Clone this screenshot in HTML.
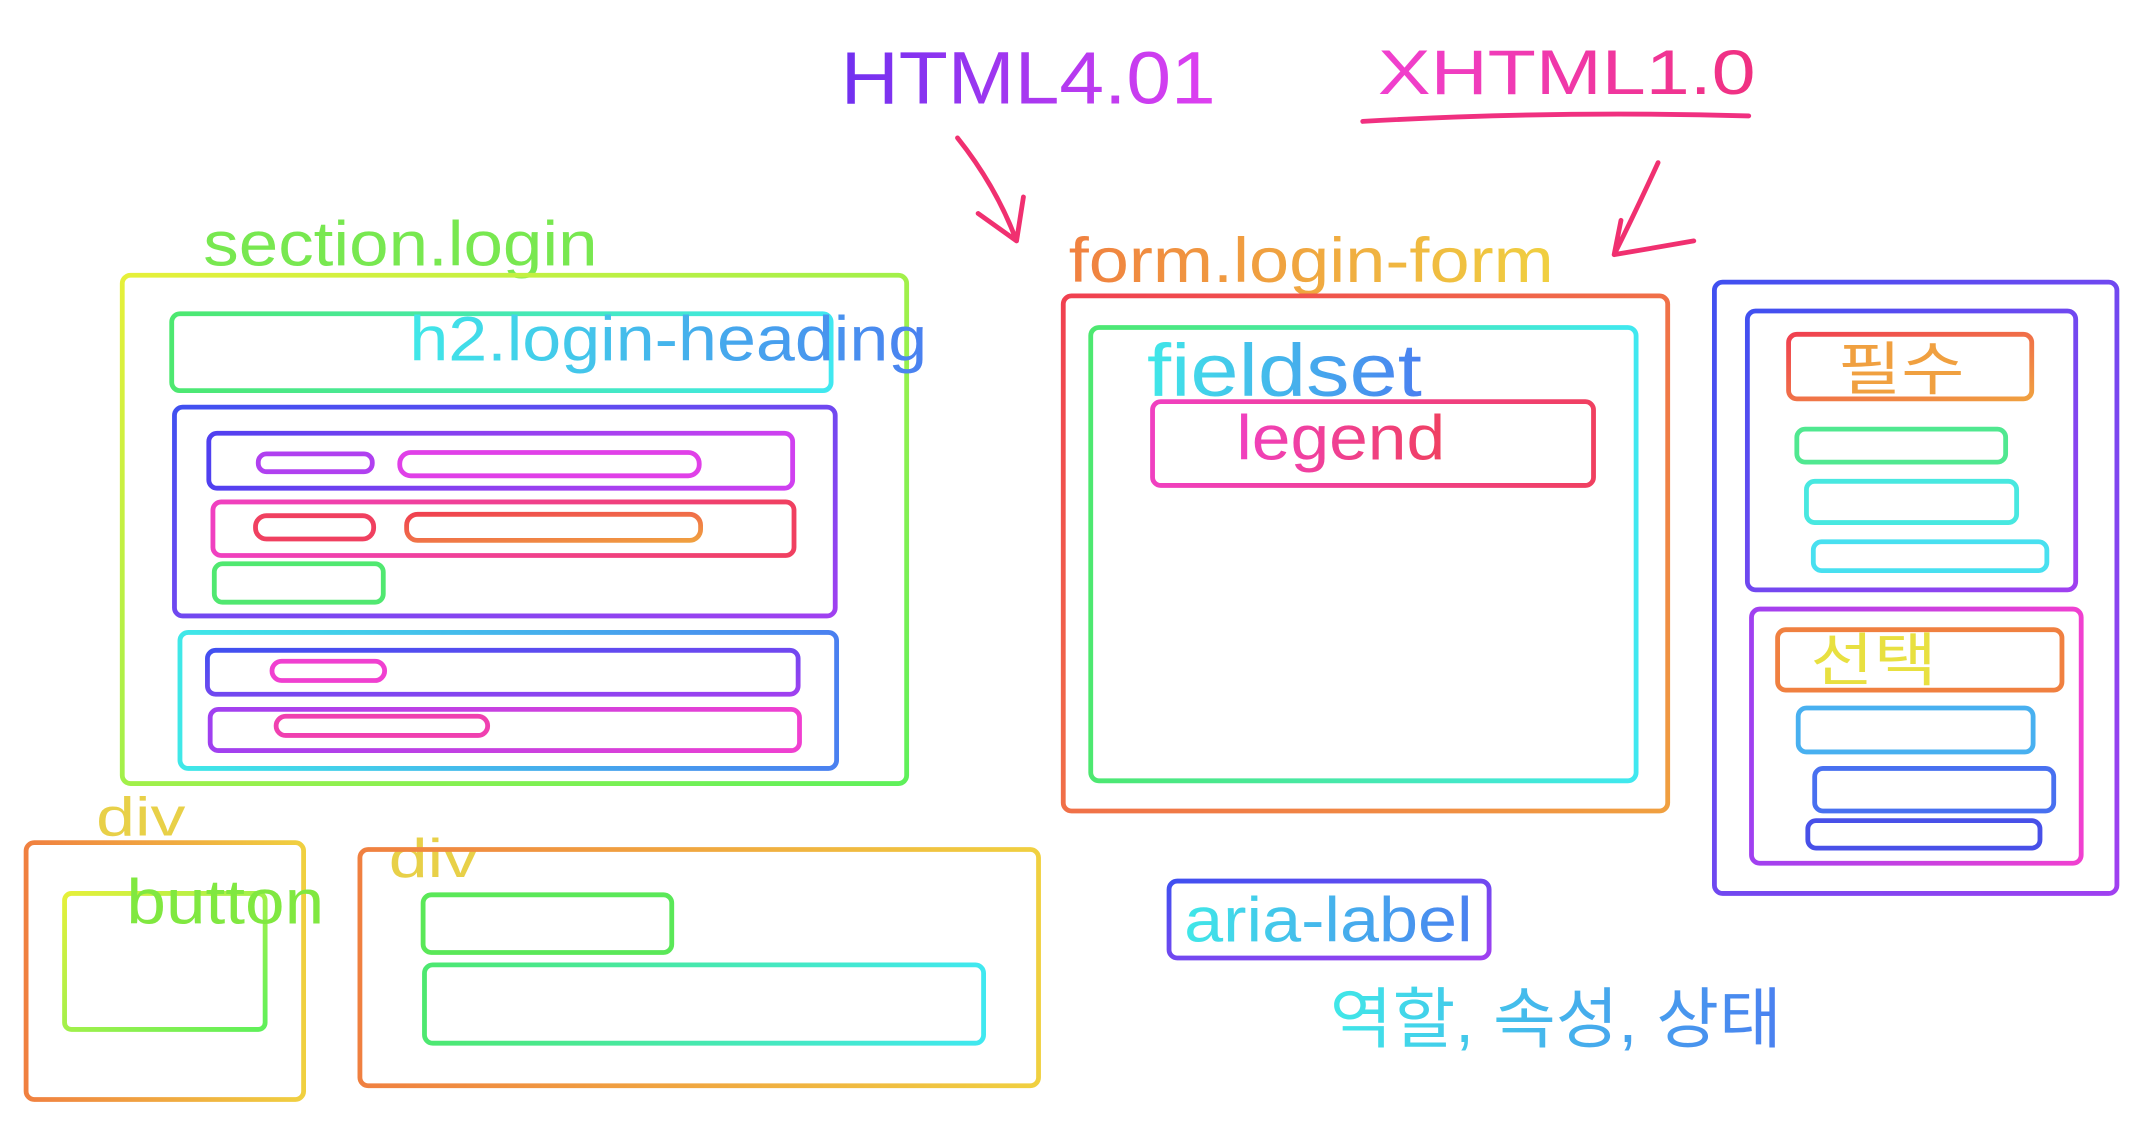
<!DOCTYPE html>
<html><head><meta charset="utf-8"><style>
html,body{margin:0;padding:0;background:#fff;width:2154px;height:1122px;overflow:hidden}
svg{display:block}
text{font-family:"Liberation Sans","Noto Sans CJK KR",sans-serif}
</style></head><body>
<svg width="2154" height="1122" viewBox="0 0 1568 816" xmlns="http://www.w3.org/2000/svg" fill="none" stroke-width="3.5" stroke-linejoin="round" stroke-linecap="round">
<defs>
<linearGradient id="yg" x1="0" y1="0" x2="1" y2="1"><stop offset="0" stop-color="#e6f03a"/><stop offset="1" stop-color="#5ef05a"/></linearGradient>
<linearGradient id="gc" x1="0" y1="0" x2="1" y2="0"><stop offset="0" stop-color="#4de870"/><stop offset="1" stop-color="#40e8f0"/></linearGradient>
<linearGradient id="cb" x1="0" y1="0" x2="1" y2="0"><stop offset="0" stop-color="#40e8e8"/><stop offset="1" stop-color="#4a80f0"/></linearGradient>
<linearGradient id="bp" x1="0" y1="0" x2="1" y2="1"><stop offset="0" stop-color="#4050f0"/><stop offset="1" stop-color="#a040f0"/></linearGradient>
<linearGradient id="bm" x1="0" y1="0" x2="1" y2="0"><stop offset="0" stop-color="#5040f0"/><stop offset="1" stop-color="#d040f0"/></linearGradient>
<linearGradient id="pm" x1="0" y1="0" x2="1" y2="0"><stop offset="0" stop-color="#a040f0"/><stop offset="1" stop-color="#f040d0"/></linearGradient>
<linearGradient id="mr" x1="0" y1="0" x2="1" y2="0"><stop offset="0" stop-color="#f040c0"/><stop offset="1" stop-color="#f04060"/></linearGradient>
<linearGradient id="ro" x1="0" y1="0" x2="1" y2="1"><stop offset="0" stop-color="#f04050"/><stop offset="1" stop-color="#f0a040"/></linearGradient>
<linearGradient id="oy" x1="0" y1="0" x2="1" y2="0"><stop offset="0" stop-color="#f08040"/><stop offset="1" stop-color="#f0d040"/></linearGradient>
<linearGradient id="tp" x1="0" y1="0" x2="1" y2="0"><stop offset="0" stop-color="#7030f0"/><stop offset="1" stop-color="#e040f0"/></linearGradient>
<linearGradient id="tm" x1="0" y1="0" x2="1" y2="0"><stop offset="0" stop-color="#f040d0"/><stop offset="1" stop-color="#f03080"/></linearGradient>
</defs>

<text x="612" y="75" font-size="54" fill="url(#tp)" stroke="none" textLength="273" lengthAdjust="spacingAndGlyphs">HTML4.01</text>
<text x="1003" y="68" font-size="46" fill="url(#tm)" stroke="none" textLength="275" lengthAdjust="spacingAndGlyphs">XHTML1.0</text>
<path d="M992 88 Q1130 80 1273 84" stroke="#f03080"/>
<path d="M697 100 Q725 135 740 175 M712 155 L740 175 L745 143" stroke="#f03070"/>
<path d="M1207 118 Q1190 155 1175 185 L1233 175 M1175 185 L1180 160" stroke="#f03070"/>

<text x="148" y="193" font-size="46" fill="#78e850" stroke="none" textLength="287" lengthAdjust="spacingAndGlyphs">section.login</text>
<rect x="89" y="200" width="571" height="370" rx="6" stroke="url(#yg)"/>
<rect x="125" y="228" width="480" height="56" rx="6" stroke="url(#gc)"/>
<text x="298" y="262" font-size="46" fill="url(#cb)" stroke="none" textLength="377" lengthAdjust="spacingAndGlyphs">h2.login-heading</text>
<rect x="127" y="296" width="481" height="152" rx="6" stroke="url(#bp)"/>
<rect x="152" y="315" width="425" height="40" rx="6" stroke="url(#bm)"/>
<rect x="188" y="330" width="83" height="13" rx="6" stroke="#b040f0"/>
<rect x="291" y="329" width="218" height="17" rx="8" stroke="#e040e8"/>
<rect x="155" y="365" width="423" height="39" rx="6" stroke="url(#mr)"/>
<rect x="186" y="375" width="86" height="17" rx="8" stroke="#f04060"/>
<rect x="296" y="374" width="214" height="19" rx="8" stroke="url(#ro)"/>
<rect x="156" y="410" width="123" height="28" rx="6" stroke="#50e870"/>
<rect x="131" y="460" width="478" height="99" rx="6" stroke="url(#cb)"/>
<rect x="151" y="473" width="430" height="32" rx="6" stroke="url(#bp)"/>
<rect x="198" y="481" width="82" height="14" rx="7" stroke="#f040d0"/>
<rect x="153" y="516" width="429" height="30" rx="6" stroke="url(#pm)"/>
<rect x="201" y="521" width="154" height="14" rx="7" stroke="#f040b0"/>

<text x="70" y="608" font-size="40" fill="#e8d048" stroke="none" textLength="65" lengthAdjust="spacingAndGlyphs">div</text>
<rect x="19" y="613" width="202" height="187" rx="6" stroke="url(#oy)"/>
<rect x="47" y="650" width="146" height="99" rx="5" stroke="url(#yg)"/>
<text x="92" y="672" font-size="46" fill="#80e840" stroke="none" textLength="144" lengthAdjust="spacingAndGlyphs">button</text>
<text x="283" y="638" font-size="40" fill="#e8d048" stroke="none" textLength="65" lengthAdjust="spacingAndGlyphs">div</text>
<rect x="262" y="618" width="494" height="172" rx="6" stroke="url(#oy)"/>
<rect x="308" y="651" width="181" height="42" rx="6" stroke="#5ae858"/>
<rect x="309" y="702" width="407" height="57" rx="6" stroke="url(#gc)"/>

<text x="778" y="205" font-size="46" fill="url(#oy)" stroke="none" textLength="353" lengthAdjust="spacingAndGlyphs">form.login-form</text>
<rect x="774" y="215" width="440" height="375" rx="6" stroke="url(#ro)"/>
<rect x="794" y="238" width="397" height="330" rx="6" stroke="url(#gc)"/>
<text x="835" y="288" font-size="54" fill="url(#cb)" stroke="none" textLength="200" lengthAdjust="spacingAndGlyphs">fieldset</text>
<rect x="839" y="292" width="321" height="61" rx="6" stroke="url(#mr)"/>
<text x="900" y="334" font-size="46" fill="url(#mr)" stroke="none" textLength="152" lengthAdjust="spacingAndGlyphs">legend</text>

<rect x="1248" y="205" width="293" height="445" rx="6" stroke="url(#bp)"/>
<rect x="1272" y="226" width="239" height="203" rx="6" stroke="url(#bp)"/>
<rect x="1302" y="243" width="177" height="47" rx="6" stroke="url(#ro)"/>
<text x="1338" y="283" font-size="42" fill="#f0a040" stroke="none" textLength="92" lengthAdjust="spacingAndGlyphs">필수</text>
<rect x="1308" y="312" width="152" height="24" rx="6" stroke="#50e890"/>
<rect x="1315" y="350" width="153" height="30" rx="6" stroke="#48e8e0"/>
<rect x="1320" y="394" width="170" height="21" rx="6" stroke="#48e0f0"/>
<rect x="1275" y="443" width="240" height="185" rx="6" stroke="url(#pm)"/>
<rect x="1294" y="458" width="207" height="44" rx="6" stroke="#f08040"/>
<text x="1318" y="495" font-size="42" fill="#e8e040" stroke="none" textLength="92" lengthAdjust="spacingAndGlyphs">선택</text>
<rect x="1309" y="515" width="171" height="32" rx="6" stroke="#48b0f0"/>
<rect x="1321" y="559" width="174" height="31" rx="6" stroke="#4870f0"/>
<rect x="1316" y="597" width="169" height="20" rx="6" stroke="#4850e8"/>

<rect x="851" y="641" width="233" height="56" rx="6" stroke="url(#bp)"/>
<text x="862" y="685" font-size="46" fill="url(#cb)" stroke="none" textLength="210" lengthAdjust="spacingAndGlyphs">aria-label</text>
<text x="968" y="758" font-size="48" fill="url(#cb)" stroke="none" textLength="329" lengthAdjust="spacingAndGlyphs">역할, 속성, 상태</text>
</svg>
</body></html>
